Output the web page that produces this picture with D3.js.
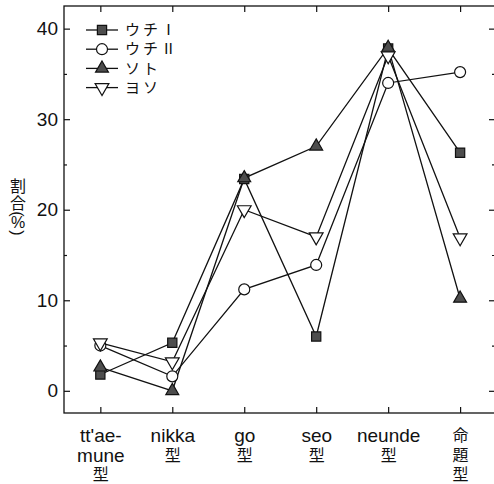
<!DOCTYPE html>
<html>
<head>
<meta charset="utf-8">
<script src="https://cdn.jsdelivr.net/npm/d3@7"></script>
<style>
  body { margin: 0; background: #fff; }
  text { font-family: "Liberation Sans", Arial, "Noto Sans CJK JP", sans-serif; fill: #111; }
</style>
</head>
<body>
<div id="chart"></div>
<script>
// categories (multi-line tick labels)
const categories = [
  ["tt'ae-", "mune", "型"],
  ["nikka", "型"],
  ["go", "型"],
  ["seo", "型"],
  ["neunde", "型"],
  ["命", "題", "型"]
];

// series values (%)
const uchi1 = [1.8, 5.3, 23.4, 6.0, 37.8, 26.3];
const uchi2 = [5.0, 1.6, 11.2, 13.9, 34.0, 35.2];
const soto = [2.6, 0.0, 23.5, 27.0, 37.9, 10.2];
const yoso = [5.3, 3.2, 20.0, 17.0, 37.0, 16.9];

const seriesNames = ["ウチⅠ", "ウチⅡ", "ソト", "ヨソ"];
const yTicks = [0, 10, 20, 30, 40];
const yMinor = [5, 15, 25, 35];

const series = [
  { name: seriesNames[0], values: uchi1, shape: "square" },
  { name: seriesNames[1], values: uchi2, shape: "circle" },
  { name: seriesNames[2], values: soto, shape: "up" },
  { name: seriesNames[3], values: yoso, shape: "down" }
];

const width = 494, height = 484;
const plotL = 64, plotR = 495, plotT = 6, plotB = 413;

const svg = d3.select("#chart")
  .append("svg")
  .attr("width", width)
  .attr("height", height);

const x = d3.scaleLinear().domain([-0.505, 5.485]).range([plotL, plotR]);
const y = d3.scaleLinear().domain([-2.45, 42.5]).range([plotB, plotT]);

// frame
svg.append("rect")
  .attr("x", plotL).attr("y", plotT)
  .attr("width", plotR - plotL).attr("height", plotB - plotT)
  .attr("fill", "none").attr("stroke", "#111").attr("stroke-width", 1.3);

function styleAxis(g) {
  g.select(".domain").remove();
  g.selectAll(".tick line").attr("stroke", "#111").attr("stroke-width", 1.2);
}

// left axis
svg.append("g")
  .attr("transform", `translate(${plotL},0)`)
  .call(d3.axisLeft(y).tickValues(yTicks).tickSize(-6).tickPadding(6))
  .call(styleAxis)
  .call(g => g.selectAll("text").attr("font-size", 19).style("fill", "#111"));

svg.append("g")
  .attr("transform", `translate(${plotL},0)`)
  .call(d3.axisLeft(y).tickValues(yMinor).tickSize(-3).tickFormat(""))
  .call(styleAxis);

// right axis
svg.append("g")
  .attr("transform", `translate(${plotR},0)`)
  .call(d3.axisRight(y).tickValues(yTicks).tickSize(-6).tickFormat(""))
  .call(styleAxis);

svg.append("g")
  .attr("transform", `translate(${plotR},0)`)
  .call(d3.axisRight(y).tickValues(yMinor).tickSize(-3).tickFormat(""))
  .call(styleAxis);

// top and bottom ticks
const idx = d3.range(categories.length);
svg.append("g")
  .attr("transform", `translate(0,${plotT})`)
  .call(d3.axisTop(x).tickValues(idx).tickSize(-6).tickFormat(""))
  .call(styleAxis);

const xAxis = svg.append("g")
  .attr("transform", `translate(0,${plotB})`)
  .call(d3.axisBottom(x).tickValues(idx).tickSize(-6).tickFormat(""))
  .call(styleAxis);

// multi-line category labels
xAxis.selectAll(".tick").each(function(d) {
  const t = d3.select(this).append("text")
    .attr("text-anchor", "middle")
    .style("fill", "#111");
  categories[d].forEach((line, i) => {
    const cjk = /[\u3000-\u9fff]/.test(line);
    t.append("tspan")
      .attr("x", 0)
      .attr("y", 29 + i * 19.5 - (cjk ? 1 : 0))
      .attr("font-size", cjk ? 16 : 19)
      .text(line);
  });
});

// y label, vertical writing: kanji upright, brackets turned
const yLab = svg.append("g").attr("transform", "translate(18,0)").attr("font-size", 16);
yLab.append("text").attr("y", 192).attr("text-anchor", "middle").text("割");
yLab.append("text").attr("y", 209).attr("text-anchor", "middle").text("合");
yLab.append("text").attr("transform", "translate(-1,214) rotate(90)")
  .attr("text-anchor", "middle").attr("dominant-baseline", "central").text("(");
yLab.append("text").attr("y", 228).attr("text-anchor", "middle").text("%");
yLab.append("text").attr("transform", "translate(-1,233) rotate(90)")
  .attr("text-anchor", "middle").attr("dominant-baseline", "central").text(")");

// markers
function drawMarker(g, shape) {
  if (shape === "square") {
    g.append("path").attr("d", d3.symbol(d3.symbolSquare, 85)())
      .attr("fill", "#4d4d4d").attr("stroke", "#111").attr("stroke-width", 1.2);
  } else if (shape === "circle") {
    g.append("path").attr("d", d3.symbol(d3.symbolCircle, 95)())
      .attr("fill", "#fff").attr("stroke", "#111").attr("stroke-width", 1.2);
  } else if (shape === "up") {
    g.append("path").attr("d", d3.symbol(d3.symbolTriangle, 72)())
      .attr("fill", "#4d4d4d").attr("stroke", "#111").attr("stroke-width", 1.2);
  } else {
    g.append("path").attr("d", d3.symbol(d3.symbolTriangle, 82)())
      .attr("transform", "rotate(180)")
      .attr("fill", "#fff").attr("stroke", "#111").attr("stroke-width", 1.2);
  }
}

const line = d3.line().x((d, i) => x(i)).y(d => y(d));

svg.append("g")
  .selectAll("path")
  .data(series)
  .join("path")
  .attr("d", d => line(d.values))
  .attr("fill", "none")
  .attr("stroke", "#111")
  .attr("stroke-width", 1.3);

series.forEach(s => {
  s.values.forEach((v, i) => {
    const g = svg.append("g").attr("transform", `translate(${x(i)},${y(v)})`);
    drawMarker(g, s.shape);
  });
});

// legend
const legend = svg.append("g");
series.forEach((s, i) => {
  const ly = 30 + i * 19.2;
  legend.append("line")
    .attr("x1", 86).attr("x2", 118).attr("y1", ly).attr("y2", ly)
    .attr("stroke", "#111").attr("stroke-width", 1.3);
  const g = legend.append("g").attr("transform", `translate(102,${ly})`);
  drawMarker(g, s.shape);
  legend.append("text")
    .attr("x", 125).attr("y", ly)
    .attr("dy", "0.35em")
    .attr("font-size", 15)
    .attr("letter-spacing", 3)
    .style("font-family", "'Noto Sans CJK JP', sans-serif")
    .text(s.name);
});
</script>
</body>
</html>
